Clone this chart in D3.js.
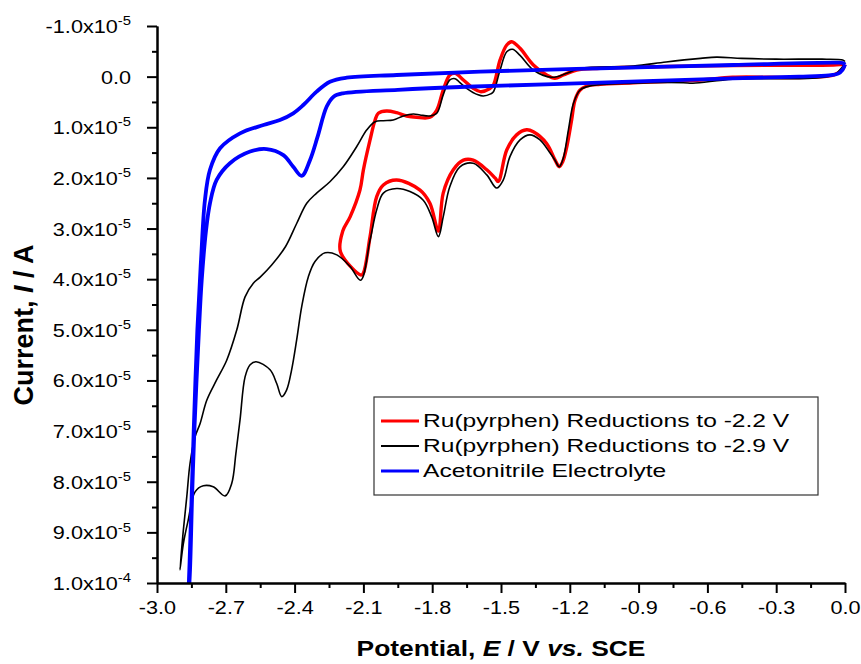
<!DOCTYPE html>
<html>
<head>
<meta charset="utf-8">
<script src="https://cdn.jsdelivr.net/npm/d3@7"></script>
<style>
  body { margin: 0; background: #fff; }
  text { font-family: Arial, "Liberation Sans", sans-serif; fill: #000; }
</style>
</head>
<body>
<svg id="chart" width="861" height="664"></svg>
<script>
// Axis ticks: potential in V, current in µA (labels shown in A)
const xTicks = [-3.0, -2.7, -2.4, -2.1, -1.8, -1.5, -1.2, -0.9, -0.6, -0.3, 0.0];
const xMinor = [-2.85, -2.55, -2.25, -1.95, -1.65, -1.35, -1.05, -0.75, -0.45, -0.15];
const yTicks = [-10, 0, 10, 20, 30, 40, 50, 60, 70, 80, 90, 100];
const yMinor = [-5, 5, 15, 25, 35, 45, 55, 65, 75, 85, 95];

const seriesNames = [
  "Ru(pyrphen) Reductions to -2.2 V",
  "Ru(pyrphen) Reductions to -2.9 V",
  "Acetonitrile Electrolyte"
];

// Ru(pyrphen), switching at -2.2 V: potential (V) and current (µA)
const redE = [0.0, -0.01, -0.05, -0.49, -0.63, -0.92, -1.068, -1.126, -1.155, -1.177, -1.192, -1.213, -1.231, -1.246,
  -1.264, -1.301, -1.359, -1.388, -1.432, -1.475, -1.512, -1.526, -1.562, -1.621, -1.664, -1.708, -1.752, -1.773,
  -1.81, -1.853, -1.955, -2.013, -2.042, -2.071, -2.10, -2.11, -2.20,
  -2.19, -2.158, -2.115, -2.10, -2.071, -2.049, -2.035, -1.999, -1.955, -1.911, -1.868, -1.81, -1.78, -1.752,
  -1.723, -1.70, -1.664, -1.621, -1.59, -1.55, -1.533, -1.504, -1.475, -1.453, -1.417, -1.359, -1.301, -1.265,
  -1.228, -1.17, -1.068, -0.777, -0.488, -0.05, -0.01, 0.0];
const redI = [-2.4, -1.5, -0.3, 0.13, 0.66, 1.2, 1.51, 1.85, 2.64, 4.6, 8.56, 13.8, 16.8, 17.8,
  16.5, 13.2, 10.9, 10.5, 11.5, 14.5, 20.7, 20.0, 18.4, 16.5, 16.5, 18.4, 23.0, 30.5,
  25.0, 22.4, 20.4, 21.4, 23.7, 31.6, 38.8, 39.2, 34.6,
  30.5, 27.7, 22.4, 18.4, 12.5, 8.56, 7.24, 6.79, 7.12, 7.77, 8.03, 8.03, 6.6, 2.64,
  -0.32, -0.66, 0.66, 2.3, 2.97, 2.4, 1.65, -3.3, -6.25, -6.9, -5.6, -2.3, -0.32, 0.33,
  -0.32, -1.31, -1.65, -2.0, -2.2, -2.3, -2.4, -2.4];

// Ru(pyrphen), switching at -2.9 V
const blackE = [0.0, -0.01, -0.05, -0.49, -0.663, -0.706, -0.924, -1.112, -1.155, -1.184, -1.206, -1.228, -1.246,
  -1.266, -1.286, -1.33, -1.374, -1.417, -1.461, -1.49, -1.519, -1.562, -1.621, -1.679, -1.723, -1.752, -1.773,
  -1.802, -1.839, -1.897, -1.955, -2.013, -2.042, -2.071, -2.112, -2.158, -2.216, -2.267, -2.311, -2.34, -2.369,
  -2.391, -2.413, -2.435, -2.456, -2.478, -2.507, -2.568, -2.594, -2.616, -2.638, -2.656, -2.674, -2.703, -2.755,
  -2.798, -2.834, -2.864, -2.885, -2.90,
  -2.885, -2.87, -2.856, -2.834, -2.812, -2.783, -2.74, -2.696, -2.652, -2.616, -2.58, -2.55, -2.50, -2.44, -2.391,
  -2.347, -2.304, -2.246, -2.188, -2.129, -2.085, -2.049, -2.013, -1.97, -1.926, -1.882, -1.853, -1.81, -1.78,
  -1.752, -1.723, -1.70, -1.679, -1.65, -1.60, -1.577, -1.545, -1.533, -1.504, -1.475, -1.45, -1.417, -1.359,
  -1.28, -1.213, -1.155, -0.924, -0.78, -0.63, -0.56, -0.45, -0.30, -0.10, -0.01, 0.0];
const blackI = [-2.8, -2.0, -0.3, 0.5, 1.3, 1.2, 1.3, 1.85, 2.64, 5.27, 10.5, 16.0, 17.8,
  16.4, 15.1, 12.5, 11.5, 12.5, 15.8, 20.4, 22.0, 19.4, 17.1, 17.8, 21.7, 27.7, 31.6,
  27.7, 24.4, 22.7, 22.1, 23.0, 26.3, 32.3, 40.2, 37.5, 35.2, 34.8, 36.5, 39.5, 45.4,
  52.0, 57.9, 61.9, 63.2, 60.6, 57.9, 56.3, 56.9, 59.3, 67.8, 74.4, 80.3, 82.8, 81.0,
  80.8, 82.0, 87.6, 92.2, 97.4,
  89.5, 82.9, 76.4, 71.1, 68.5, 63.9, 59.9, 56.0, 50.0, 43.5, 40.8, 39.6, 37.2, 33.6, 29.0,
  25.0, 23.0, 20.75, 17.8, 13.8, 10.5, 8.9, 8.7, 8.56, 7.77, 7.38, 7.57, 7.77, 7.24,
  3.6, 0.66, 0.4, 1.2, 2.3, 3.6, 3.82, 3.4, 2.97, -1.31, -4.9, -5.4, -4.2, -1.31,
  0.13, -0.66, -1.65, -2.1, -2.9, -3.6, -3.85, -3.6, -3.45, -3.45, -3.3, -3.0];

// Acetonitrile electrolyte background
const blueE = [0.0, -0.01, -0.03, -0.07, -0.2, -0.49, -1.07, -1.65, -1.95, -2.19, -2.23, -2.26, -2.30, -2.333, -2.369,
  -2.406, -2.449, -2.522, -2.594, -2.682, -2.74, -2.769, -2.786, -2.805, -2.817, -2.837, -2.847, -2.856, -2.865,
  -2.858, -2.849, -2.84, -2.824, -2.808, -2.791, -2.769, -2.725, -2.638, -2.536, -2.464, -2.406, -2.362, -2.304,
  -2.246, -2.173, -1.955, -1.59, -1.068, -0.488, -0.052, -0.01, 0.0];
const blueI = [-2.4, -1.4, -0.6, -0.25, 0.0, 0.33, 1.2, 2.0, 2.6, 3.3, 3.95, 5.9, 11.9, 16.5, 19.6,
  17.8, 15.5, 14.3, 14.8, 17.1, 20.4, 25.0, 30.3, 40.2, 50.0, 69.8, 83.0, 97.4, 105,
  96, 83, 70, 50, 36.2, 24.4, 18.4, 14.15, 11.2, 9.55, 8.56, 7.24, 5.6, 2.97,
  1.0, 0.21, -0.32, -1.0, -1.65, -2.3, -2.75, -2.7, -2.4];

const colors = ["#ff0000", "#000000", "#0000ff"];
const widths = [3.4, 1.6, 3.8];

const svg = d3.select("#chart");
const pLeft = 157, pRight = 845, pTop = 26, pBottom = 583;

// Lettering is set slightly wide
const tickStretch = 1.14, titleStretch = 1.2, legendStretch = 1.33;

const x = d3.scaleLinear().domain([-3, 0]).range([pLeft, pRight]);
const y = d3.scaleLinear().domain([-10, 100]).range([pTop, pBottom]);

// Clip region for the traces
svg.append("defs").append("clipPath").attr("id", "plotClip")
  .append("rect").attr("x", pLeft).attr("y", 0).attr("width", 861 - pLeft).attr("height", pBottom);

const line = d3.line()
  .x(d => x(d[0]))
  .y(d => y(d[1]))
  .curve(d3.curveCatmullRom.alpha(0.5));

const traces = [
  d3.zip(redE, redI),
  d3.zip(blackE, blackI),
  d3.zip(blueE, blueI)
];

const plot = svg.append("g").attr("clip-path", "url(#plotClip)");
traces.forEach((pts, i) => {
  plot.append("path")
    .datum(pts)
    .attr("d", line)
    .attr("fill", "none")
    .attr("stroke", colors[i])
    .attr("stroke-width", widths[i])
    .attr("stroke-linejoin", "round");
});

// Axes
function styleAxis(g) {
  g.select(".domain").attr("stroke", "#000").attr("stroke-width", 2);
  g.selectAll(".tick line").attr("stroke", "#000").attr("stroke-width", 2);
}

const xAxis = svg.append("g").attr("transform", `translate(0,${pBottom})`)
  .call(d3.axisBottom(x).tickValues(xTicks).tickSize(10).tickSizeOuter(0).tickPadding(0)
    .tickFormat(d => d3.format(".1f")(d).replace("\u2212", "-")));
styleAxis(xAxis);
xAxis.selectAll(".tick text")
  .attr("font-size", 19)
  .attr("font-family", "Arial, 'Liberation Sans', sans-serif")
  .attr("y", 0).attr("dy", 0)
  .attr("transform", `translate(0,31) scale(${tickStretch},1)`);

const xAxisMinor = svg.append("g").attr("transform", `translate(0,${pBottom})`)
  .call(d3.axisBottom(x).tickValues(xMinor).tickSize(5).tickSizeOuter(0).tickFormat(""));
styleAxis(xAxisMinor);

const yAxis = svg.append("g").attr("transform", `translate(${pLeft},0)`)
  .call(d3.axisLeft(y).tickValues(yTicks).tickSize(10).tickSizeOuter(0).tickFormat(""));
styleAxis(yAxis);

const yAxisMinor = svg.append("g").attr("transform", `translate(${pLeft},0)`)
  .call(d3.axisLeft(y).tickValues(yMinor).tickSize(5).tickSizeOuter(0).tickFormat(""));
styleAxis(yAxisMinor);

// Y tick labels in amperes with superscript exponent
yTicks.forEach(v => {
  const t = svg.append("text")
    .attr("transform", `translate(${pLeft - 26},${y(v) + 7}) scale(${tickStretch},1)`)
    .attr("text-anchor", "end")
    .attr("font-size", 19);
  if (v === 0) {
    t.text("0.0");
  } else {
    const amps = v * 1e-6;
    const exp = Math.floor(Math.log10(Math.abs(amps)) + 1e-9);
    const mant = amps / Math.pow(10, exp);
    t.append("tspan").text(mant.toFixed(1) + "x10");
    t.append("tspan").attr("font-size", 13).attr("dy", "-0.6em").text(String(exp));
  }
});

// Axis titles
const xt = svg.append("text")
  .attr("transform", `translate(${(pLeft + pRight) / 2},656) scale(${titleStretch},1)`)
  .attr("text-anchor", "middle").attr("font-size", 22).attr("font-weight", "bold");
xt.append("tspan").text("Potential, ");
xt.append("tspan").attr("font-style", "italic").text("E");
xt.append("tspan").text(" / V ");
xt.append("tspan").attr("font-style", "italic").text("vs.");
xt.append("tspan").text(" SCE");

const yt = svg.append("text")
  .attr("transform", "translate(33,325) rotate(-90)")
  .attr("text-anchor", "middle").attr("font-size", 27).attr("font-weight", "bold");
yt.append("tspan").text("Current, ");
yt.append("tspan").attr("font-style", "italic").text("I");
yt.append("tspan").text(" / A");

// Legend
const lg = svg.append("g").attr("transform", "translate(374,397)");
lg.append("rect").attr("width", 444).attr("height", 98)
  .attr("fill", "#fff").attr("stroke", "#333").attr("stroke-width", 1.2);
seriesNames.forEach((name, i) => {
  const ly = 24 + i * 25;
  lg.append("line").attr("x1", 7).attr("x2", 45).attr("y1", ly).attr("y2", ly)
    .attr("stroke", colors[i]).attr("stroke-width", i === 1 ? 1.8 : 3.2);
  lg.append("text")
    .attr("transform", `translate(49,${ly + 6}) scale(${legendStretch},1)`)
    .attr("font-size", 18.5).text(name);
});
</script>
</body>
</html>
